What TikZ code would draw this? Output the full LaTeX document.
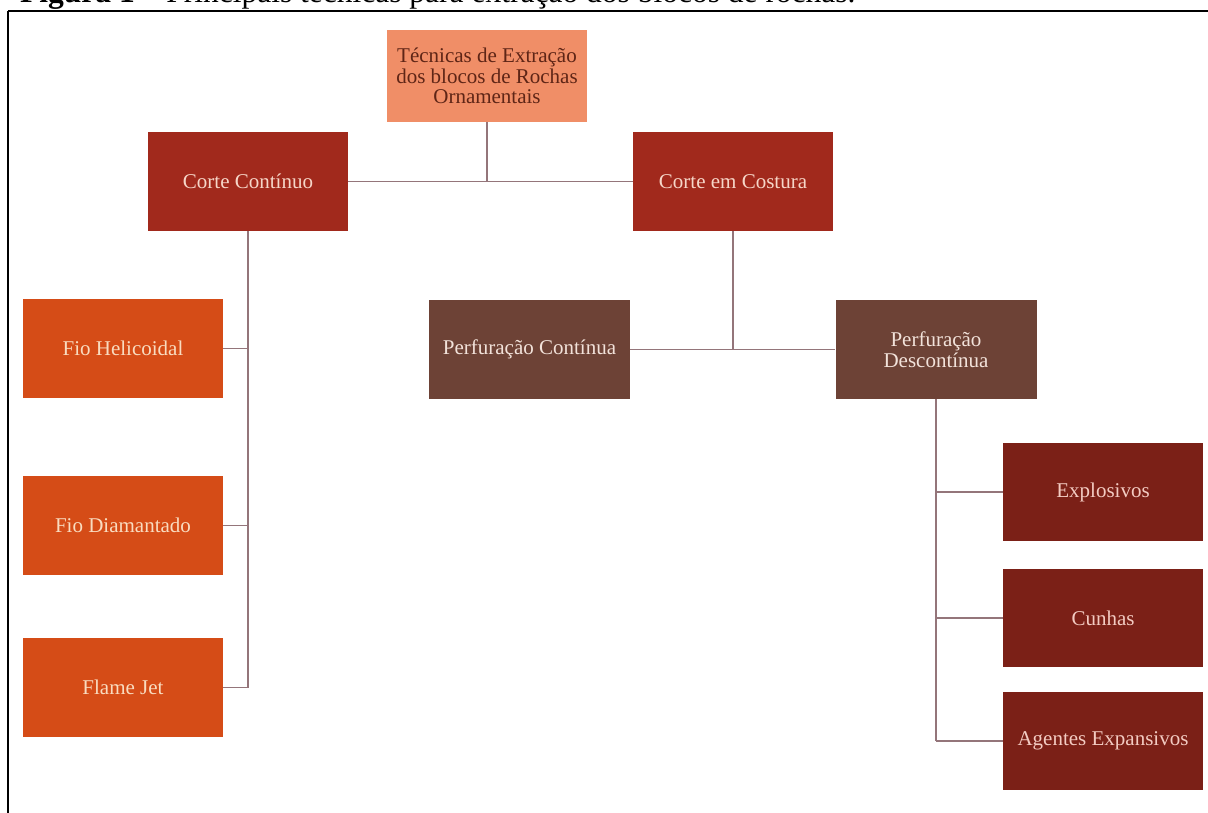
\documentclass[tikz,border=0pt]{standalone}
\usepackage{fontspec}
\setmainfont{Liberation Serif}
\definecolor{rootfill}{HTML}{F08E67}
\definecolor{roottext}{HTML}{5E2516}
\definecolor{cortefill}{HTML}{A1291C}
\definecolor{cortetext}{HTML}{F6D6C8}
\definecolor{perffill}{HTML}{6D4236}
\definecolor{perftext}{HTML}{F2E2DA}
\definecolor{fiofill}{HTML}{D54C17}
\definecolor{fiotext}{HTML}{F9DCC0}
\definecolor{expfill}{HTML}{7B2017}
\definecolor{exptext}{HTML}{F3CBC2}
\definecolor{linkcol}{HTML}{94757A}
\tikzset{
  box/.style={rectangle, inner sep=2pt, minimum width=200pt, minimum height=99pt,
    align=center, font=\fontsize{21}{20.5}\selectfont},
  rootbox/.style={box, fill=rootfill, text=roottext, minimum height=92pt},
  cortebox/.style={box, fill=cortefill, text=cortetext},
  perfbox/.style={box, fill=perffill, text=perftext, minimum width=201pt},
  fiobox/.style={box, fill=fiofill, text=fiotext},
  expbox/.style={box, fill=expfill, text=exptext, minimum height=98pt},
  link/.style={draw=linkcol, line width=1.3pt},
  frame/.style={draw=black, line width=2pt},
}
\begin{document}
\begin{tikzpicture}[x=1pt,y=-1pt]
\useasboundingbox (0,0) rectangle (1208,812);
\fill[white] (0,0) rectangle (1208,812);
% caption (cut off at the top of the picture)
\node[anchor=base west, inner sep=0pt, font=\fontsize{31.5}{32}\selectfont] (cap) at (20,2)
  {\textbf{Figura 1} -- Principais técnicas para extração dos blocos de rochas.};
\draw[frame] (8,11) -- (1212,11);
\draw[frame] (8,11) -- (8,816);
% nodes
\node[rootbox] (root) at (487,76) {Técnicas de Extração\\dos blocos de Rochas\\Ornamentais};
\node[cortebox] (cc) at (248,181.5) {Corte Contínuo};
\node[cortebox] (cs) at (733,181.5) {Corte em Costura};
\node[perfbox] (pc) at (529.5,349.5) {Perfuração Contínua};
\node[perfbox] (pd) at (936,349.5) {Perfuração\\Descontínua};
\node[fiobox] (fh) at (123,348.5) {Fio Helicoidal};
\node[fiobox] (fd) at (123,525.5) {Fio Diamantado};
\node[fiobox] (fj) at (123,687.5) {Flame Jet};
\node[expbox] (ex) at (1103,492) {Explosivos};
\node[expbox] (cu) at (1103,618) {Cunhas};
\node[expbox] (ag) at (1103,741) {Agentes Expansivos};
% connectors
\draw[link] (root.south) -- (root.south |- cc.east);
\draw[link] (cc.east) -- (cs.west);
\draw[link] (cs.south) -- (cs.south |- pc.east);
\draw[link] (pc.east) -- (pd.west);
\draw[link] (cc.south) -- (cc.south |- fj.east);
\draw[link] (fh.east) -- (fh.east -| cc.south);
\draw[link] (fd.east) -- (fd.east -| cc.south);
\draw[link] (fj.east) -- (fj.east -| cc.south);
\draw[link] (pd.south) -- (pd.south |- ag.west);
\draw[link] (ex.west) -- (ex.west -| pd.south);
\draw[link] (cu.west) -- (cu.west -| pd.south);
\draw[link] (ag.west) -- (ag.west -| pd.south);
\end{tikzpicture}
\end{document}
